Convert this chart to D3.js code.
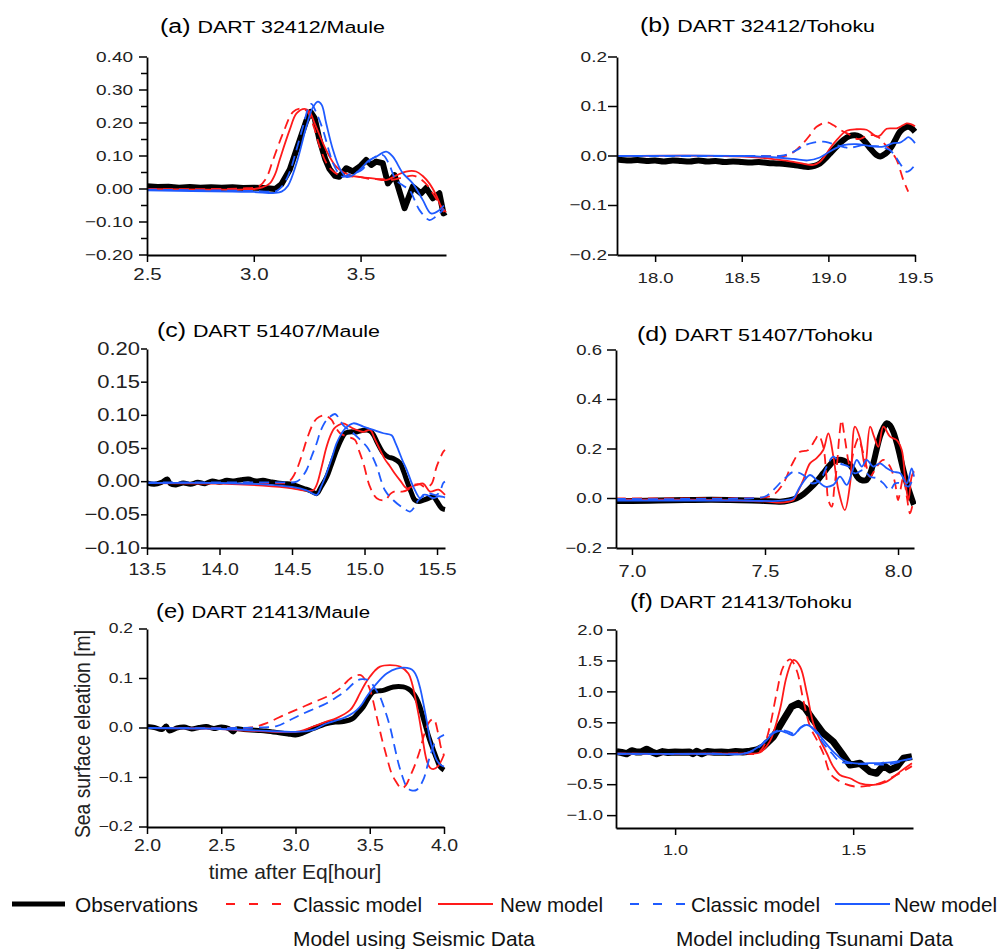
<!DOCTYPE html>
<html>
<head>
<meta charset="utf-8">
<script src="https://cdn.jsdelivr.net/npm/d3@7"></script>
<style>
  body { margin: 0; background: #fff; }
  svg { display: block; font-family: "Liberation Sans", Arial, sans-serif; }
</style>
</head>
<body>
<script>
var RED = "#ff1a1a", BLUE = "#1f5bff";

// ---- (a) DART 32412 / Maule ----
var aObs = [[2.50,0.008],[2.55,0.006],[2.60,0.007],[2.65,0.004],[2.70,0.006],[2.75,0.004],[2.80,0.005],[2.85,0.004],[2.90,0.005],[2.95,0.003],[3.00,0.004],[3.05,0.003],[3.10,0.000],[3.13,0.015],[3.168,0.058],[3.215,0.148],[3.245,0.205],[3.266,0.234],[3.285,0.215],[3.308,0.148],[3.335,0.090],[3.355,0.060],[3.38,0.040],[3.40,0.037],[3.433,0.063],[3.464,0.053],[3.50,0.070],[3.526,0.088],[3.55,0.073],[3.573,0.083],[3.604,0.078],[3.628,0.017],[3.659,0.042],[3.706,-0.058],[3.744,0.007],[3.783,-0.013],[3.807,0.003],[3.838,-0.028],[3.869,-0.013],[3.888,-0.074],[3.90,-0.070]];
var aRedDash = [[2.50,0.0],[2.80,0.0],[2.95,0.002],[3.00,0.004],[3.028,0.010],[3.06,0.035],[3.09,0.088],[3.137,0.169],[3.184,0.234],[3.222,0.244],[3.25,0.235],[3.28,0.19],[3.308,0.13],[3.335,0.085],[3.36,0.06],[3.40,0.042],[3.45,0.038],[3.50,0.036],[3.55,0.03],[3.60,0.03],[3.65,0.028],[3.70,0.035],[3.75,0.04],[3.80,0.02],[3.85,-0.025],[3.89,-0.07]];
var aRedNew = [[2.50,0.0],[2.90,-0.002],[3.00,0.0],[3.04,0.005],[3.075,0.017],[3.10,0.045],[3.121,0.088],[3.168,0.179],[3.20,0.229],[3.238,0.243],[3.26,0.235],[3.285,0.199],[3.339,0.118],[3.386,0.068],[3.449,0.042],[3.50,0.036],[3.557,0.032],[3.62,0.027],[3.67,0.042],[3.713,0.053],[3.76,0.053],[3.79,0.04],[3.822,0.017],[3.855,-0.02],[3.877,-0.053],[3.90,-0.07]];
var aBlueDash = [[2.50,-0.002],[2.90,-0.005],[3.00,-0.006],[3.08,-0.008],[3.11,-0.005],[3.14,0.015],[3.17,0.055],[3.20,0.12],[3.235,0.20],[3.255,0.245],[3.27,0.258],[3.29,0.235],[3.324,0.179],[3.35,0.12],[3.371,0.078],[3.40,0.045],[3.418,0.037],[3.45,0.045],[3.50,0.055],[3.557,0.093],[3.604,0.103],[3.63,0.08],[3.666,0.027],[3.70,0.01],[3.729,-0.003],[3.776,-0.064],[3.822,-0.094],[3.85,-0.085],[3.869,-0.074],[3.89,-0.06]];
var aBlueNew = [[2.50,-0.004],[2.90,-0.008],[3.00,-0.009],[3.10,-0.012],[3.13,-0.008],[3.16,0.01],[3.20,0.078],[3.246,0.189],[3.275,0.245],[3.30,0.265],[3.318,0.255],[3.339,0.199],[3.371,0.118],[3.402,0.063],[3.433,0.037],[3.46,0.04],[3.495,0.058],[3.542,0.088],[3.573,0.098],[3.62,0.113],[3.651,0.098],[3.698,0.048],[3.744,0.017],[3.791,-0.033],[3.83,-0.074],[3.869,-0.064],[3.89,-0.05]];
var aXTicks = [2.5, 3.0, 3.5];
var aYTicks = [-0.2, -0.1, 0, 0.1, 0.2, 0.3, 0.4];
var aYMinor = [-0.15, -0.05, 0.05, 0.15, 0.25, 0.35];

// ---- (b) DART 32412 / Tohoku ----
var bObs = [[17.78,-0.007],[17.85,-0.009],[17.90,-0.008],[17.95,-0.010],[18.00,-0.009],[18.05,-0.011],[18.10,-0.009],[18.15,-0.010],[18.20,-0.011],[18.25,-0.009],[18.30,-0.011],[18.35,-0.010],[18.40,-0.012],[18.45,-0.011],[18.50,-0.012],[18.55,-0.013],[18.60,-0.012],[18.65,-0.014],[18.70,-0.015],[18.75,-0.016],[18.80,-0.018],[18.85,-0.021],[18.884,-0.022],[18.92,-0.020],[18.951,-0.015],[18.98,-0.006],[19.009,0.005],[19.05,0.020],[19.086,0.032],[19.12,0.040],[19.153,0.042],[19.18,0.039],[19.211,0.029],[19.245,0.014],[19.278,0.002],[19.30,-0.001],[19.317,0.002],[19.34,0.008],[19.365,0.019],[19.39,0.035],[19.413,0.049],[19.44,0.057],[19.461,0.059],[19.48,0.056],[19.50,0.049]];
var bRedDash = [[17.78,0.0],[18.50,0.0],[18.70,0.0],[18.759,0.001],[18.80,0.008],[18.855,0.026],[18.90,0.045],[18.932,0.059],[18.99,0.068],[19.03,0.062],[19.067,0.053],[19.124,0.043],[19.172,0.034],[19.22,0.04],[19.26,0.042],[19.30,0.035],[19.33,0.022],[19.36,0.01],[19.394,-0.008],[19.432,-0.048],[19.461,-0.072]];
var bRedNew = [[17.78,0.0],[18.40,0.0],[18.60,-0.003],[18.70,-0.007],[18.80,-0.012],[18.86,-0.016],[18.913,-0.018],[18.95,-0.012],[18.98,0.0],[19.009,0.015],[19.05,0.033],[19.105,0.051],[19.163,0.054],[19.22,0.053],[19.25,0.046],[19.278,0.039],[19.30,0.042],[19.336,0.055],[19.394,0.056],[19.43,0.062],[19.452,0.066],[19.48,0.064],[19.50,0.06]];
var bBlueDash = [[17.78,0.0],[18.60,0.0],[18.72,0.0],[18.77,0.004],[18.817,0.012],[18.86,0.021],[18.913,0.027],[18.97,0.029],[19.01,0.026],[19.047,0.022],[19.09,0.018],[19.124,0.016],[19.16,0.019],[19.20,0.022],[19.25,0.02],[19.298,0.019],[19.33,0.016],[19.355,0.012],[19.385,0.0],[19.413,-0.015],[19.452,-0.032],[19.475,-0.028],[19.50,-0.018]];
var bBlueNew = [[17.78,0.0],[18.50,0.0],[18.70,-0.003],[18.80,-0.006],[18.88,-0.009],[18.95,-0.003],[19.009,0.009],[19.05,0.017],[19.086,0.022],[19.163,0.024],[19.24,0.02],[19.317,0.019],[19.375,0.026],[19.413,0.027],[19.44,0.033],[19.461,0.038],[19.48,0.034],[19.50,0.026]];
var bXTicks = [18.0, 18.5, 19.0, 19.5];
var bYTicks = [-0.2, -0.1, 0, 0.1, 0.2];

// ---- (c) DART 51407 / Maule ----
var cObs = [[13.50,-0.002],[13.55,-0.004],[13.60,-0.001],[13.64,0.004],[13.66,-0.003],[13.70,-0.005],[13.75,-0.002],[13.80,-0.004],[13.85,-0.001],[13.90,-0.003],[13.95,0.001],[14.00,-0.001],[14.05,0.002],[14.10,0.001],[14.15,0.003],[14.20,0.004],[14.25,0.001],[14.30,0.002],[14.348,0.0],[14.40,-0.002],[14.45,-0.003],[14.50,-0.004],[14.578,-0.010],[14.63,-0.014],[14.67,-0.018],[14.70,-0.008],[14.739,0.007],[14.77,0.025],[14.808,0.048],[14.84,0.064],[14.866,0.073],[14.90,0.075],[14.946,0.075],[14.98,0.077],[15.015,0.078],[15.04,0.076],[15.061,0.071],[15.09,0.058],[15.13,0.043],[15.165,0.037],[15.199,0.035],[15.245,0.028],[15.27,0.015],[15.291,0.002],[15.32,-0.015],[15.348,-0.028],[15.375,-0.030],[15.405,-0.028],[15.44,-0.025],[15.475,-0.023],[15.50,-0.030],[15.532,-0.040],[15.555,-0.042]];
var cRedDash = [[13.50,-0.002],[14.00,-0.002],[14.40,-0.002],[14.463,-0.002],[14.50,0.005],[14.532,0.018],[14.565,0.038],[14.601,0.063],[14.64,0.085],[14.67,0.095],[14.716,0.100],[14.745,0.098],[14.774,0.093],[14.80,0.082],[14.831,0.073],[14.877,0.068],[14.934,0.063],[14.96,0.048],[14.992,0.028],[15.038,-0.008],[15.084,-0.025],[15.141,-0.028],[15.18,-0.018],[15.22,-0.014],[15.26,-0.015],[15.30,-0.012],[15.34,-0.005],[15.38,-0.004],[15.42,-0.008],[15.46,-0.004],[15.498,0.023],[15.543,0.045],[15.555,0.048]];
var cRedNew = [[13.50,-0.002],[14.00,-0.003],[14.30,-0.006],[14.50,-0.010],[14.578,-0.013],[14.647,-0.013],[14.67,-0.005],[14.705,0.023],[14.735,0.05],[14.762,0.068],[14.79,0.08],[14.819,0.085],[14.854,0.088],[14.89,0.084],[14.923,0.08],[14.96,0.077],[14.992,0.075],[15.038,0.078],[15.07,0.065],[15.107,0.048],[15.14,0.034],[15.176,0.023],[15.21,0.012],[15.245,0.002],[15.291,-0.010],[15.33,-0.007],[15.36,-0.005],[15.405,-0.003],[15.452,-0.015],[15.51,-0.012],[15.555,-0.02]];
var cBlueDash = [[13.50,-0.001],[14.00,-0.001],[14.40,-0.001],[14.532,0.0],[14.565,0.006],[14.601,0.018],[14.635,0.038],[14.67,0.058],[14.70,0.078],[14.739,0.093],[14.797,0.102],[14.825,0.095],[14.854,0.085],[14.923,0.073],[14.97,0.063],[15.015,0.053],[15.05,0.04],[15.084,0.023],[15.141,-0.013],[15.199,-0.028],[15.268,-0.040],[15.314,-0.045],[15.345,-0.038],[15.371,-0.028],[15.44,-0.018],[15.498,-0.02],[15.525,-0.012],[15.543,-0.002],[15.555,0.0]];
var cBlueNew = [[13.50,-0.002],[14.00,-0.002],[14.30,-0.004],[14.50,-0.008],[14.60,-0.013],[14.67,-0.02],[14.70,-0.008],[14.739,0.013],[14.775,0.036],[14.808,0.058],[14.84,0.072],[14.866,0.08],[14.923,0.088],[14.992,0.083],[15.061,0.078],[15.13,0.073],[15.187,0.07],[15.21,0.06],[15.233,0.048],[15.26,0.033],[15.291,0.018],[15.337,-0.008],[15.383,-0.025],[15.405,-0.02],[15.429,-0.02],[15.475,-0.025],[15.51,-0.022],[15.543,-0.023],[15.555,-0.024]];
var cXTicks = [13.5, 14.0, 14.5, 15.0, 15.5];
var cYTicks = [-0.1, -0.05, 0, 0.05, 0.1, 0.15, 0.2];

// ---- (d) DART 51407 / Tohoku ----
var dObs = [[6.94,-0.010],[7.00,-0.010],[7.10,-0.008],[7.20,-0.006],[7.30,-0.005],[7.369,-0.006],[7.45,-0.008],[7.50,-0.010],[7.557,-0.013],[7.59,-0.008],[7.619,0.001],[7.645,0.018],[7.669,0.041],[7.695,0.07],[7.719,0.102],[7.74,0.13],[7.757,0.149],[7.788,0.156],[7.82,0.135],[7.851,0.082],[7.867,0.073],[7.882,0.075],[7.895,0.100],[7.907,0.142],[7.92,0.20],[7.932,0.25],[7.945,0.285],[7.958,0.304],[7.97,0.295],[7.982,0.27],[7.995,0.225],[8.008,0.169],[8.02,0.115],[8.033,0.061],[8.045,0.02],[8.058,-0.02],[8.06,-0.025]];
var dRedDash = [[6.94,0.0],[7.20,0.0],[7.40,0.001],[7.50,0.005],[7.531,0.014],[7.569,0.061],[7.60,0.135],[7.632,0.189],[7.65,0.192],[7.663,0.196],[7.688,0.236],[7.701,0.256],[7.719,0.209],[7.73,0.10],[7.738,-0.006],[7.751,-0.033],[7.76,0.04],[7.77,0.129],[7.78,0.26],[7.788,0.317],[7.80,0.243],[7.82,0.129],[7.835,0.2],[7.851,0.243],[7.865,0.2],[7.876,0.156],[7.895,0.088],[7.92,0.129],[7.945,0.156],[7.97,0.129],[7.989,0.061],[8.0,-0.006],[8.01,0.04],[8.02,0.088],[8.033,0.007],[8.045,-0.06],[8.058,-0.006]];
var dRedNew = [[6.94,-0.004],[7.20,-0.005],[7.40,-0.008],[7.50,-0.012],[7.557,-0.017],[7.585,-0.014],[7.607,-0.006],[7.625,0.03],[7.644,0.075],[7.669,0.142],[7.694,0.163],[7.719,0.196],[7.738,0.263],[7.757,0.169],[7.776,0.034],[7.80,-0.047],[7.82,0.061],[7.838,0.29],[7.857,0.243],[7.876,0.129],[7.895,0.29],[7.91,0.25],[7.926,0.209],[7.945,0.29],[7.97,0.25],[7.995,0.236],[8.014,0.196],[8.026,0.088],[8.039,-0.006],[8.051,0.088],[8.06,0.11]];
var dBlueDash = [[6.94,-0.002],[7.20,-0.002],[7.40,0.0],[7.50,0.008],[7.531,0.034],[7.563,0.07],[7.582,0.088],[7.607,0.108],[7.644,0.095],[7.676,0.061],[7.707,0.075],[7.732,0.129],[7.757,0.169],[7.782,0.142],[7.813,0.129],[7.838,0.102],[7.87,0.115],[7.895,0.088],[7.92,0.082],[7.945,0.061],[7.97,0.034],[7.989,0.061],[8.014,0.061],[8.039,0.048],[8.058,0.088]];
var dBlueNew = [[6.94,-0.008],[7.20,-0.008],[7.40,-0.008],[7.55,-0.010],[7.59,-0.005],[7.607,0.001],[7.632,0.048],[7.669,0.095],[7.694,0.075],[7.726,0.048],[7.757,0.055],[7.782,0.088],[7.807,0.055],[7.826,0.102],[7.845,0.156],[7.864,0.129],[7.882,0.156],[7.907,0.129],[7.932,0.142],[7.958,0.122],[7.982,0.108],[8.008,0.102],[8.033,0.061],[8.051,0.122],[8.06,0.088]];
var dXTicks = [7.0, 7.5, 8.0];
var dYTicks = [-0.2, 0, 0.2, 0.4, 0.6];

// ---- (e) DART 21413 / Maule ----
var eObs = [[2.00,0.003],[2.05,0.001],[2.10,-0.003],[2.13,0.004],[2.15,-0.006],[2.20,0.0],[2.25,0.002],[2.30,-0.002],[2.35,0.001],[2.40,0.003],[2.45,-0.001],[2.50,0.002],[2.55,-0.001],[2.58,-0.008],[2.60,-0.002],[2.65,-0.003],[2.70,-0.004],[2.75,-0.005],[2.80,-0.006],[2.85,-0.008],[2.90,-0.010],[2.95,-0.012],[3.00,-0.014],[3.05,-0.010],[3.12,-0.001],[3.21,0.009],[3.27,0.012],[3.322,0.013],[3.389,0.020],[3.42,0.030],[3.457,0.043],[3.49,0.06],[3.524,0.073],[3.56,0.075],[3.591,0.076],[3.659,0.083],[3.726,0.083],[3.76,0.079],[3.793,0.07],[3.815,0.06],[3.838,0.043],[3.86,0.02],[3.883,-0.004],[3.905,-0.025],[3.928,-0.044],[3.95,-0.062],[3.973,-0.078],[4.00,-0.085]];
var eRedDash = [[2.00,0.0],[2.50,0.0],[2.70,0.001],[2.806,0.01],[2.90,0.023],[2.96,0.031],[3.03,0.040],[3.12,0.052],[3.21,0.063],[3.30,0.080],[3.35,0.095],[3.389,0.104],[3.44,0.107],[3.47,0.097],[3.502,0.077],[3.547,0.023],[3.58,-0.02],[3.614,-0.058],[3.645,-0.09],[3.67,-0.105],[3.715,-0.122],[3.745,-0.115],[3.771,-0.098],[3.80,-0.078],[3.838,-0.045],[3.87,-0.01],[3.90,0.012],[3.93,0.018],[3.96,-0.01],[3.98,-0.04],[4.00,-0.055]];
var eRedNew = [[2.00,0.0],[2.40,-0.001],[2.60,-0.004],[2.80,-0.007],[3.00,-0.008],[3.06,-0.004],[3.12,0.003],[3.20,0.012],[3.277,0.02],[3.367,0.036],[3.40,0.05],[3.434,0.07],[3.47,0.09],[3.502,0.104],[3.535,0.116],[3.569,0.124],[3.636,0.127],[3.704,0.124],[3.76,0.11],[3.785,0.09],[3.805,0.063],[3.83,0.025],[3.85,-0.01],[3.883,-0.065],[3.905,-0.08],[3.928,-0.083],[3.96,-0.077],[4.00,-0.054]];
var eBlueDash = [[2.00,0.0],[2.60,0.0],[2.75,0.001],[2.873,0.004],[2.95,0.014],[3.03,0.026],[3.12,0.038],[3.21,0.05],[3.28,0.063],[3.345,0.077],[3.39,0.09],[3.434,0.098],[3.47,0.098],[3.502,0.094],[3.535,0.08],[3.569,0.063],[3.60,0.038],[3.636,0.003],[3.665,-0.035],[3.693,-0.071],[3.72,-0.098],[3.749,-0.119],[3.78,-0.126],[3.816,-0.125],[3.86,-0.105],[3.905,-0.058],[3.95,-0.024],[4.00,-0.014]];
var eBlueNew = [[2.00,0.0],[2.40,-0.001],[2.60,-0.003],[2.80,-0.006],[3.00,-0.008],[3.06,-0.007],[3.12,-0.004],[3.20,0.008],[3.322,0.02],[3.37,0.027],[3.412,0.036],[3.447,0.048],[3.479,0.063],[3.547,0.09],[3.614,0.11],[3.681,0.12],[3.771,0.12],[3.795,0.115],[3.816,0.104],[3.84,0.08],[3.861,0.05],[3.885,0.012],[3.906,-0.024],[3.93,-0.048],[3.951,-0.065],[3.975,-0.074],[4.00,-0.078]];
var eXTicks = [2.0, 2.5, 3.0, 3.5, 4.0];
var eYTicks = [-0.2, -0.1, 0, 0.1, 0.2];

// ---- (f) DART 21413 / Tohoku ----
var fObs = [[0.836,0.034],[0.85,0.02],[0.864,0.0],[0.878,0.05],[0.89,0.03],[0.905,0.03],[0.92,0.073],[0.935,0.03],[0.948,0.0],[0.965,0.035],[0.98,0.02],[1.0,0.03],[1.02,0.025],[1.04,0.03],[1.05,0.0],[1.06,0.04],[1.075,0.0],[1.09,0.035],[1.11,0.025],[1.13,0.03],[1.15,0.02],[1.17,0.035],[1.19,0.03],[1.21,0.04],[1.229,0.06],[1.248,0.115],[1.276,0.276],[1.304,0.546],[1.327,0.761],[1.346,0.816],[1.365,0.735],[1.388,0.546],[1.416,0.331],[1.444,0.196],[1.468,0.008],[1.491,-0.181],[1.505,-0.17],[1.519,-0.153],[1.547,-0.289],[1.566,-0.315],[1.585,-0.19],[1.604,-0.262],[1.623,-0.21],[1.641,-0.073],[1.665,-0.046]];
var fRedDash = [[0.834,0.0],[1.10,0.0],[1.20,0.005],[1.229,0.0],[1.248,0.115],[1.266,0.438],[1.285,0.977],[1.304,1.407],[1.323,1.526],[1.341,1.354],[1.36,0.869],[1.379,0.438],[1.398,0.223],[1.416,0.008],[1.435,-0.315],[1.449,-0.396],[1.472,-0.477],[1.505,-0.53],[1.54,-0.52],[1.573,-0.48],[1.622,-0.342],[1.665,-0.2]];
var fRedNew = [[0.834,0.0],[1.10,0.0],[1.20,0.005],[1.238,0.02],[1.266,0.2],[1.294,0.708],[1.313,1.246],[1.332,1.515],[1.351,1.407],[1.37,0.977],[1.388,0.492],[1.407,0.223],[1.426,0.008],[1.444,-0.208],[1.463,-0.342],[1.491,-0.396],[1.519,-0.477],[1.557,-0.504],[1.594,-0.45],[1.632,-0.289],[1.665,-0.153]];
var fBlueDash = [[0.834,0.0],[1.10,0.0],[1.20,0.01],[1.238,0.115],[1.266,0.303],[1.294,0.384],[1.318,0.357],[1.337,0.32],[1.355,0.438],[1.374,0.465],[1.398,0.33],[1.416,0.169],[1.44,0.008],[1.463,-0.127],[1.491,-0.153],[1.55,-0.17],[1.60,-0.17],[1.665,-0.073]];
var fBlueNew = [[0.834,0.0],[1.10,0.0],[1.20,0.01],[1.248,0.169],[1.276,0.33],[1.294,0.37],[1.313,0.34],[1.332,0.3],[1.351,0.411],[1.37,0.465],[1.393,0.384],[1.416,0.223],[1.444,0.034],[1.472,-0.1],[1.5,-0.153],[1.547,-0.153],[1.604,-0.14],[1.665,-0.073]];
var fXTicks = [1.0, 1.5];
var fYTicks = [-1.0, -0.5, 0, 0.5, 1.0, 1.5, 2.0];

var titles = ["DART 32412/Maule", "DART 32412/Tohoku", "DART 51407/Maule", "DART 51407/Tohoku", "DART 21413/Maule", "DART 21413/Tohoku"];
var letters = ["(a)", "(b)", "(c)", "(d)", "(e)", "(f)"];
var legendLabels = ["Observations", "Classic model", "New model", "Classic model", "New model"];
var groupLabels = ["Model using Seismic Data", "Model including Tsunami Data"];

// series styles, drawn in this order
var seriesStyle = [
	{stroke: "#000", dash: null, obs: true},
	{stroke: RED, dash: "10,6"},
	{stroke: RED, dash: null},
	{stroke: BLUE, dash: "10,6"},
	{stroke: BLUE, dash: null}
];

// layout of each panel (pixels)
var panels = [
	{series: [aObs, aRedDash, aRedNew, aBlueDash, aBlueNew], xDom: [2.5, 3.9], yDom: [-0.2, 0.4], left: 147, right: 446, top: 57, bottom: 255,
	 xTicks: aXTicks, yTicks: aYTicks, yMinor: aYMinor, yFmt: ".2f", obsW: 6, obsLinear: true,
	 yFont: 19, yTick: 8, yPad: 6, xFont: 20.5, xBase: 25, titleX: 160, titleY: 33, titleW: 225},
	{series: [bObs, bRedDash, bRedNew, bBlueDash, bBlueNew], xDom: [17.78, 19.5], yDom: [-0.2, 0.2], left: 617, right: 915, top: 57, bottom: 255,
	 xTicks: bXTicks, yTicks: bYTicks, yFmt: ".1f", obsW: 6,
	 yFont: 19, yTick: 9, yPad: 1, xFont: 18.5, xBase: 28, titleX: 640, titleY: 32, titleW: 235},
	{series: [cObs, cRedDash, cRedNew, cBlueDash, cBlueNew], xDom: [13.5, 15.555], yDom: [-0.1, 0.2], left: 147, right: 445, top: 349, bottom: 548,
	 xTicks: cXTicks, yTicks: cYTicks, yFmt: ".2f", obsW: 5,
	 yFont: 22, yTick: 6, yPad: 1, xFont: 19.5, xBase: 27, titleX: 157, titleY: 337, titleW: 223},
	{series: [dObs, dRedDash, dRedNew, dBlueDash, dBlueNew], xDom: [6.94, 8.06], yDom: [-0.2, 0.6], left: 616, right: 914, top: 350, bottom: 548,
	 xTicks: dXTicks, yTicks: dYTicks, yFmt: ".1f", obsW: 6,
	 yFont: 18.5, yTick: 9, yPad: 5, xFont: 20, xBase: 29, titleX: 637, titleY: 341, titleW: 236},
	{series: [eObs, eRedDash, eRedNew, eBlueDash, eBlueNew], xDom: [2.0, 4.0], yDom: [-0.2, 0.2], left: 147, right: 444, top: 629, bottom: 827,
	 xTicks: eXTicks, yTicks: eYTicks, yFmt: ".1f", obsW: 5,
	 yFont: 17.5, yTick: 8, yPad: 6, xFont: 19.5, xBase: 24, titleX: 156, titleY: 618, titleW: 214},
	{series: [fObs, fRedDash, fRedNew, fBlueDash, fBlueNew], xDom: [0.834, 1.668], yDom: [-1.2, 2.0], left: 616, right: 913, top: 630, bottom: 828,
	 xTicks: fXTicks, yTicks: fYTicks, yFmt: ".1f", obsW: 7, obsLinear: true,
	 yFont: 18.5, yTick: 9, yPad: 4, xFont: 18, xBase: 27, titleX: 630, titleY: 608, titleW: 222}
];

var SQ = 0.8; // vertical squash of the panel lettering

var svg = d3.select("body").append("svg").attr("width", 1000).attr("height", 949);

panels.forEach(function(p, i) { drawPanel(p, i); });
drawLabels();
drawLegend();

function drawPanel(p, i) {
	var x = d3.scaleLinear().domain(p.xDom).range([p.left, p.right]);
	var y = d3.scaleLinear().domain(p.yDom).range([p.bottom, p.top]);
	var g = svg.append("g").attr("class", "panel");

	var clipId = "clip" + i;
	svg.append("clipPath").attr("id", clipId).append("rect")
		.attr("x", p.left).attr("y", p.top - 10)
		.attr("width", p.right - p.left + 2).attr("height", p.bottom - p.top + 10);

	var lines = g.append("g").attr("clip-path", "url(#" + clipId + ")");
	p.series.forEach(function(data, k) {
		var st = seriesStyle[k];
		var curve = (st.obs && p.obsLinear) ? d3.curveLinear : d3.curveCatmullRom.alpha(0.5);
		var line = d3.line().x(function(d) { return x(d[0]); }).y(function(d) { return y(d[1]); }).curve(curve);
		lines.append("path")
			.datum(data)
			.attr("d", line)
			.attr("fill", "none")
			.attr("stroke", st.stroke)
			.attr("stroke-width", st.obs ? p.obsW : 1.8)
			.attr("stroke-linejoin", "round")
			.attr("stroke-dasharray", st.dash);
	});

	// y axis
	var yAxis = d3.axisLeft(y).tickValues(p.yTicks).tickFormat(d3.format(p.yFmt))
		.tickSize(p.yTick).tickSizeOuter(0).tickPadding(p.yPad);
	var gy = g.append("g").attr("transform", "translate(" + p.left + ",0)").call(yAxis);
	styleAxis(gy, p.yFont);
	gy.selectAll(".tick text").attr("transform", "scale(1," + SQ + ")");
	gy.selectAll(".tick").attr("transform", function(d) { return "translate(0," + y(d) + ")"; });
	if (p.yMinor) {
		gy.selectAll(".minor").data(p.yMinor).enter().append("line")
			.attr("class", "minor")
			.attr("x1", -6).attr("x2", 0)
			.attr("y1", function(d) { return y(d); }).attr("y2", function(d) { return y(d); })
			.attr("stroke", "#000").attr("stroke-width", 1.5);
	}

	// x axis
	var xAxis = d3.axisBottom(x).tickValues(p.xTicks).tickFormat(d3.format(".1f"))
		.tickSize(7).tickSizeOuter(0);
	var gx = g.append("g").attr("transform", "translate(0," + p.bottom + ")").call(xAxis);
	styleAxis(gx, p.xFont);
	gx.selectAll(".tick text")
		.attr("y", p.xBase / SQ).attr("dy", null)
		.attr("transform", "scale(1," + SQ + ")");

	// title
	var t = svg.append("text")
		.attr("transform", "translate(" + p.titleX + "," + p.titleY + ") scale(1," + SQ + ")")
		.attr("textLength", p.titleW)
		.attr("lengthAdjust", "spacingAndGlyphs")
		.attr("fill", "#000");
	t.append("tspan").attr("font-size", 25).text(letters[i] + " ");
	t.append("tspan").attr("font-size", 21.5).text(titles[i]);
}

function styleAxis(sel, fontSize) {
	sel.attr("font-family", null).attr("font-size", fontSize);
	sel.select(".domain").attr("stroke", "#000").attr("stroke-width", 1.8);
	sel.selectAll(".tick line").attr("stroke", "#000").attr("stroke-width", 1.5);
	sel.selectAll(".tick text").attr("fill", "#222");
}

function drawLabels() {
	svg.append("text")
		.attr("transform", "translate(90,734) rotate(-90)")
		.attr("text-anchor", "middle")
		.attr("font-size", 22)
		.attr("textLength", 208)
		.attr("lengthAdjust", "spacingAndGlyphs")
		.attr("fill", "#222")
		.text("Sea surface eleation [m]");

	svg.append("text")
		.attr("x", 295).attr("y", 879)
		.attr("text-anchor", "middle")
		.attr("font-size", 21)
		.attr("fill", "#222")
		.text("time after Eq[hour]");
}

function drawLegend() {
	var items = [
		{x1: 12, x2: 65, tx: 75, tw: 123},
		{x1: 226, x2: 282, tx: 293, tw: 129},
		{x1: 438, x2: 493, tx: 500, tw: 103},
		{x1: 630, x2: 685, tx: 691, tw: 129},
		{x1: 835, x2: 890, tx: 894, tw: 103}
	];
	var lg = svg.append("g").attr("class", "legend");
	items.forEach(function(it, k) {
		var st = seriesStyle[k];
		lg.append("line")
			.attr("x1", it.x1).attr("x2", it.x2).attr("y1", 904).attr("y2", 904)
			.attr("stroke", st.stroke)
			.attr("stroke-width", st.obs ? 5 : 2)
			.attr("stroke-dasharray", st.dash ? "9,14" : null);
		lg.append("text")
			.attr("x", it.tx).attr("y", 912)
			.attr("font-size", 21)
			.attr("textLength", it.tw)
			.attr("lengthAdjust", "spacingAndGlyphs")
			.attr("fill", "#111")
			.text(legendLabels[k]);
	});
	var groups = [{x: 293, w: 242}, {x: 676, w: 277}];
	groups.forEach(function(gp, k) {
		lg.append("text")
			.attr("x", gp.x).attr("y", 946)
			.attr("font-size", 21)
			.attr("textLength", gp.w)
			.attr("lengthAdjust", "spacingAndGlyphs")
			.attr("fill", "#111")
			.text(groupLabels[k]);
	});
}
</script>
</body>
</html>
